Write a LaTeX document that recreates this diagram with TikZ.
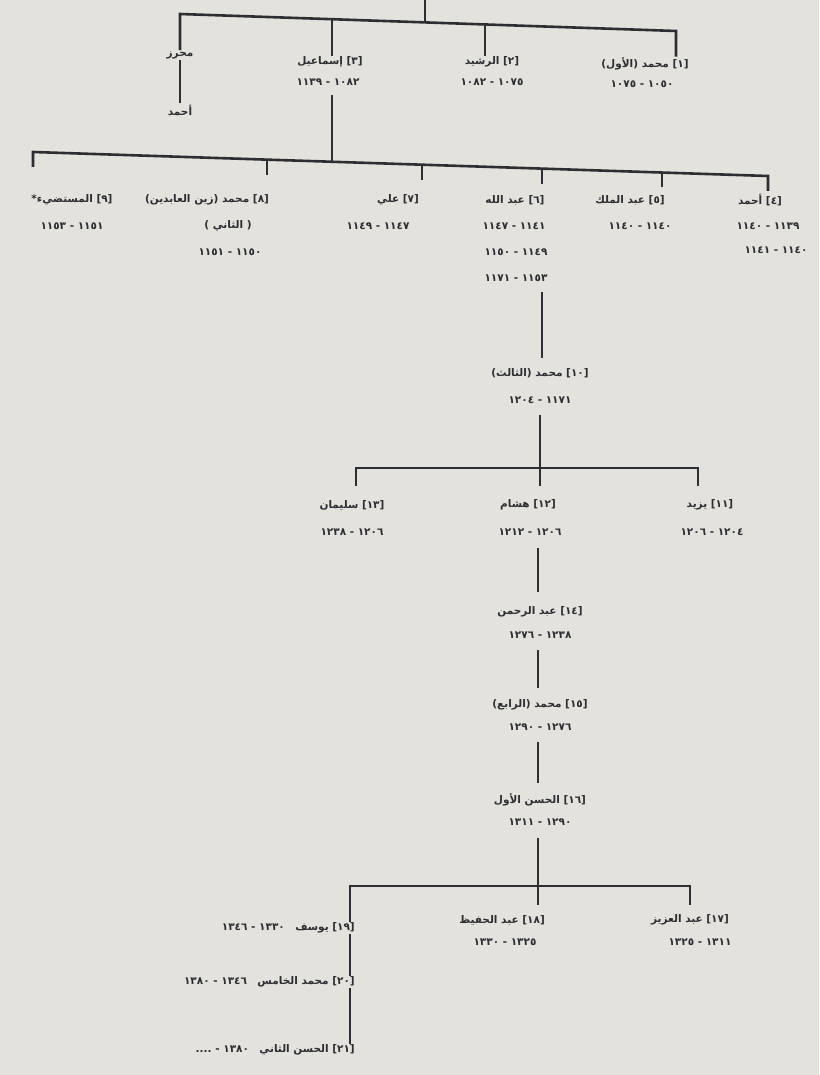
\documentclass[tikz,border=0pt]{standalone}
\usepackage{fontspec}
\newfontfamily\arabicfont[Script=Arabic]{DejaVu Sans}
\TeXXeTstate=1
\definecolor{paper}{RGB}{227,226,220}
\definecolor{ink}{RGB}{45,45,52}
\newcommand{\AR}[1]{\beginR #1\endR}
\tikzset{
  lbl/.style={inner sep=1pt, font=\arabicfont\bfseries\fontsize{10.5}{12}\selectfont, text=ink},
  conn/.style={draw=ink, line width=2.6pt, line join=miter},
}
\begin{document}
\begin{tikzpicture}[x=1pt,y=-1pt]
\fill[paper] (0,0) rectangle (819,1075);
\useasboundingbox (0,0) rectangle (819,1075);

% ---------- generation 1 ----------
\coordinate (top) at (425,0);
\coordinate (j1) at (425,22);
\coordinate (b1L) at (180,14);
\coordinate (b1R) at (676,31);
\coordinate (j1a) at (332,19);
\coordinate (j1b) at (485,24.5);

\node[lbl] (mahraz) at (180,55) {\AR{محرز}};
\node[lbl] (ahmadm) at (180,110) {\AR{أحمد}};
\node[lbl] (n3) at (330,62) {\AR{[٣] إسماعيل}};
\node[lbl] (d3) at (328,82) {\AR{١٠٨٢ - ١١٣٩}};
\node[lbl] (n2) at (492,62) {\AR{[٢] الرشيد}};
\node[lbl] (d2) at (492,82) {\AR{١٠٧٥ - ١٠٨٢}};
\node[lbl] (n1) at (645,64) {\AR{[١] محمد (الأول)}};
\node[lbl] (d1) at (642,84) {\AR{١٠٥٠ - ١٠٧٥}};

\draw[conn] (top) -- (j1);
\draw[conn] (b1L |- mahraz.north) -- (b1L) -- (b1R) -- (b1R |- n1.north);
\draw[conn] (j1a) -- (j1a |- n3.north);
\draw[conn] (j1b) -- (j1b |- n2.north);
\draw[conn] (mahraz.south) -- (mahraz.south |- ahmadm.north);

% ---------- generation 2 ----------
\coordinate (s3) at (332,95);
\coordinate (j2) at (332,161.7);
\coordinate (b2L) at (33,152);
\coordinate (b2R) at (768,176);
\coordinate (j2a) at (267,159.6);
\coordinate (j2b) at (422,164.7);
\coordinate (j2c) at (542,168.6);
\coordinate (j2d) at (662,172.5);

\node[lbl] (n9) at (72,200) {\AR{[٩] المستضيء*}};
\node[lbl] (d9) at (72,226) {\AR{١١٥١ - ١١٥٣}};
\node[lbl] (n8) at (207,200) {\AR{[٨] محمد (زين العابدين)}};
\node[lbl] (n8b) at (228,226) {\AR{( الثاني )}};
\node[lbl] (d8) at (230,252) {\AR{١١٥٠ - ١١٥١}};
\node[lbl] (n7) at (398,200) {\AR{[٧] علي}};
\node[lbl] (d7) at (378,226) {\AR{١١٤٧ - ١١٤٩}};
\node[lbl] (n6) at (515,200) {\AR{[٦] عبد الله}};
\node[lbl] (d6a) at (514,226) {\AR{١١٤١ - ١١٤٧}};
\node[lbl] (d6b) at (516,252) {\AR{١١٤٩ - ١١٥٠}};
\node[lbl] (d6c) at (516,278) {\AR{١١٥٣ - ١١٧١}};
\node[lbl] (n5) at (630,200) {\AR{[٥] عبد الملك}};
\node[lbl] (d5) at (640,226) {\AR{١١٤٠ - ١١٤٠}};
\node[lbl] (n4) at (760,200) {\AR{[٤] أحمد}};
\node[lbl] (d4a) at (768,226) {\AR{١١٣٩ - ١١٤٠}};
\node[lbl] (d4b) at (776,250) {\AR{١١٤٠ - ١١٤١}};

\draw[conn] (s3) -- (j2);
\draw[conn] ([yshift=-15pt]b2L) -- (b2L) -- (b2R) -- ([yshift=-15pt]b2R);
\draw[conn] (j2a) -- ([yshift=-15pt]j2a);
\draw[conn] (j2b) -- ([yshift=-15pt]j2b);
\draw[conn] (j2c) -- ([yshift=-15pt]j2c);
\draw[conn] (j2d) -- ([yshift=-15pt]j2d);

% ---------- [10] ----------
\coordinate (s6a) at (542,292);
\coordinate (s6b) at (542,358);
\node[lbl] (n10) at (540,373) {\AR{[١٠] محمد (الثالث)}};
\node[lbl] (d10) at (540,400) {\AR{١١٧١ - ١٢٠٤}};
\draw[conn] (s6a) -- (s6b);

% ---------- generation 4 ----------
\coordinate (s10) at (540,415);
\coordinate (j3) at (540,486);
\coordinate (b3L) at (356,468);
\coordinate (b3R) at (698,468);
\node[lbl] (n13) at (352,505) {\AR{[١٣] سليمان}};
\node[lbl] (d13) at (352,532) {\AR{١٢٠٦ - ١٢٣٨}};
\node[lbl] (n12) at (528,505) {\AR{[١٢] هشام}};
\node[lbl] (d12) at (530,532) {\AR{١٢٠٦ - ١٢١٢}};
\node[lbl] (n11) at (710,505) {\AR{[١١] يزيد}};
\node[lbl] (d11) at (712,532) {\AR{١٢٠٤ - ١٢٠٦}};
\draw[conn] (s10) -- (j3);
\draw[conn] ([yshift=-18pt]b3L) -- (b3L) -- (b3R) -- ([yshift=-18pt]b3R);

% ---------- direct line ----------
\node[lbl] (n14) at (540,612) {\AR{[١٤] عبد الرحمن}};
\node[lbl] (d14) at (540,635) {\AR{١٢٣٨ - ١٢٧٦}};
\node[lbl] (n15) at (540,705) {\AR{[١٥] محمد (الرابع)}};
\node[lbl] (d15) at (540,727) {\AR{١٢٧٦ - ١٢٩٠}};
\node[lbl] (n16) at (540,800) {\AR{[١٦] الحسن الأول}};
\node[lbl] (d16) at (540,822) {\AR{١٢٩٠ - ١٣١١}};
\coordinate (s12a) at (538,548);
\coordinate (s12b) at (538,592);
\coordinate (s14a) at (538,650);
\coordinate (s14b) at (538,688);
\coordinate (s15a) at (538,742);
\coordinate (s15b) at (538,783);
\coordinate (s16a) at (538,838);
\coordinate (s16b) at (538,905);
\draw[conn] (s12a) -- (s12b);
\draw[conn] (s14a) -- (s14b);
\draw[conn] (s15a) -- (s15b);
\draw[conn] (s16a) -- (s16b);

% ---------- generation 6 ----------
\coordinate (b4L) at (350,886);
\coordinate (b4R) at (690,886);
\node[lbl] (n17) at (690,920) {\AR{[١٧] عبد العزيز}};
\node[lbl] (d17) at (700,942) {\AR{١٣١١ - ١٣٢٥}};
\node[lbl, anchor=east] (n18) at (546,920) {\AR{[١٨] عبد الحفيظ}};
\node[lbl] (d18) at (505,942) {\AR{١٣٢٥ - ١٣٣٠}};
\node[lbl, anchor=east] (n19) at (356,928) {\AR{[١٩] يوسف\quad ١٣٣٠ - ١٣٤٦}};
\node[lbl, anchor=east] (n20) at (356,982) {\AR{[٢٠] محمد الخامس\quad ١٣٤٦ - ١٣٨٠}};
\node[lbl, anchor=east] (n21) at (356,1050) {\AR{[٢١] الحسن الثاني\quad ١٣٨٠ - ....}};
\draw[conn] (b4L |- n19.north) -- (b4L) -- (b4R) -- ([yshift=-19pt]b4R);
\draw[conn] (b4L |- n19.south) -- (b4L |- n20.north);
\draw[conn] (b4L |- n20.south) -- (b4L |- n21.north);
\end{tikzpicture}
\end{document}
